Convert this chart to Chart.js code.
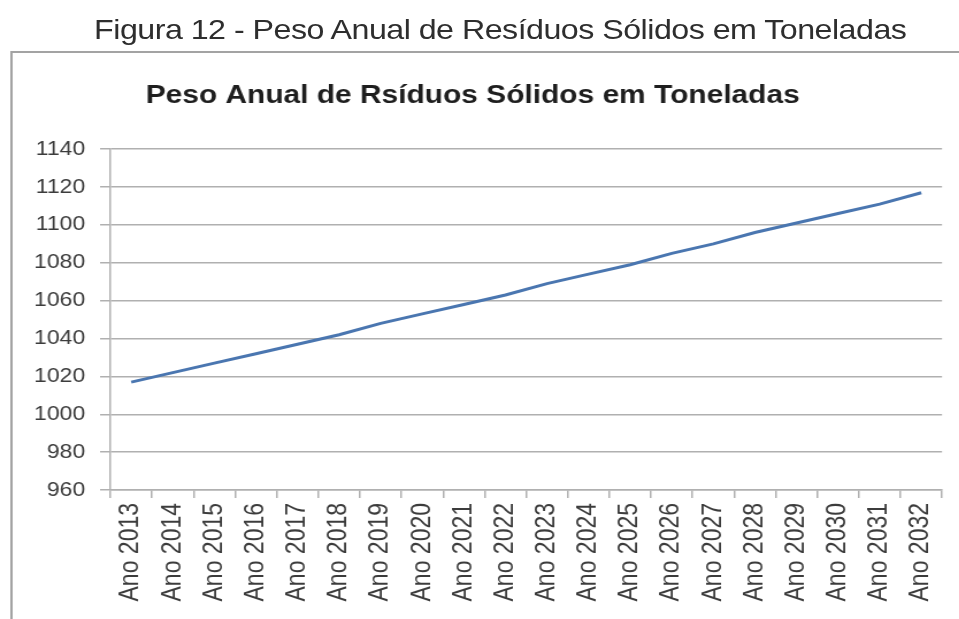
<!DOCTYPE html>
<html lang="pt">
<head>
  <meta charset="UTF-8" />
  <title>Peso Anual de Resíduos Sólidos em Toneladas</title>
  <script src="https://cdn.jsdelivr.net/npm/chart.js"></script>
  <style>
    html, body { margin: 0; padding: 0; background: #fff; overflow: hidden; }
    /* a imagem original esta esticada na horizontal */
    #folha {
      position: absolute; left: 0; top: 0;
      width: 834px; height: 619px;
      transform-origin: 0 0;
      transform: scaleX(1.15);
    }
    #figura {
      position: absolute; left: 75px; top: 16px; width: 720px;
      font: 28px/28px "Liberation Sans", Arial, sans-serif;
      letter-spacing: -0.45px;
      color: #2e2e2e; text-align: center; white-space: nowrap;
    }
    #moldura {
      position: absolute; left: 9px; top: 51px;
      width: 900px; height: 600px;
      border: 2px solid #a3a3a3;
    }
    #grafico { position: absolute; left: 0; top: 0; }
  </style>
</head>
<body>
  <div id="folha">
    <div id="figura">Figura 12 - Peso Anual de Resíduos Sólidos em Toneladas</div>
    <div id="moldura"></div>
    <canvas id="grafico" width="834" height="619"></canvas>
  </div>

  <script>
    const anos = ['Ano 2013', 'Ano 2014', 'Ano 2015', 'Ano 2016', 'Ano 2017',
                  'Ano 2018', 'Ano 2019', 'Ano 2020', 'Ano 2021', 'Ano 2022',
                  'Ano 2023', 'Ano 2024', 'Ano 2025', 'Ano 2026', 'Ano 2027',
                  'Ano 2028', 'Ano 2029', 'Ano 2030', 'Ano 2031', 'Ano 2032'];
    const peso = [1017, 1022, 1027, 1032, 1037, 1042, 1048, 1053, 1058, 1063,
                  1069, 1074, 1079, 1085, 1090, 1096, 1101, 1106, 1111, 1117];
    const eixoY = { min: 960, max: 1140, passo: 20 };

    const cinza = '#b0b0b0';

    const ctx = document.getElementById('grafico').getContext('2d');
    new Chart(ctx, {
      type: 'line',
      data: {
        labels: anos,
        datasets: [{
          label: 'Peso',
          data: peso,
          borderColor: '#4a76b0',
          borderWidth: 3,
          pointRadius: 0,
          tension: 0,
          fill: false
        }]
      },
      options: {
        responsive: false,
        animation: false,
        layout: { padding: { left: 0, right: 12, top: 0, bottom: 0 } },
        plugins: {
          legend: { display: false },
          tooltip: { enabled: false },
          title: {
            display: true,
            text: 'Peso Anual de Rsíduos Sólidos em Toneladas',
            color: '#1e1e1e',
            font: { family: '"Liberation Sans", Arial, sans-serif', size: 26, weight: 'bold', lineHeight: 1.2 },
            padding: { top: 80, bottom: 38 }
          }
        },
        scales: {
          x: {
            offset: true,
            afterFit: (eixo) => { eixo.height = 129; },
            grid: {
              offset: true,
              drawOnChartArea: false,
              drawTicks: true,
              tickLength: 8,
              color: cinza,
              lineWidth: 1.5
            },
            border: { display: true, color: cinza, width: 1.5 },
            ticks: {
              minRotation: 90,
              maxRotation: 90,
              autoSkip: false,
              padding: 5,
              color: '#3c3c3c',
              font: { family: '"Liberation Sans", Arial, sans-serif', size: 23 }
            }
          },
          y: {
            min: eixoY.min,
            max: eixoY.max,
            afterFit: (eixo) => { eixo.width = 96; },
            grid: {
              color: cinza,
              lineWidth: 1.5,
              drawTicks: true,
              tickLength: 9
            },
            border: { display: true, color: cinza, width: 1.5 },
            ticks: {
              stepSize: eixoY.passo,
              padding: 13,
              color: '#3c3c3c',
              font: { family: '"Liberation Sans", Arial, sans-serif', size: 20 },
              callback: (v) => String(v)
            }
          }
        }
      }
    });
  </script>
</body>
</html>
